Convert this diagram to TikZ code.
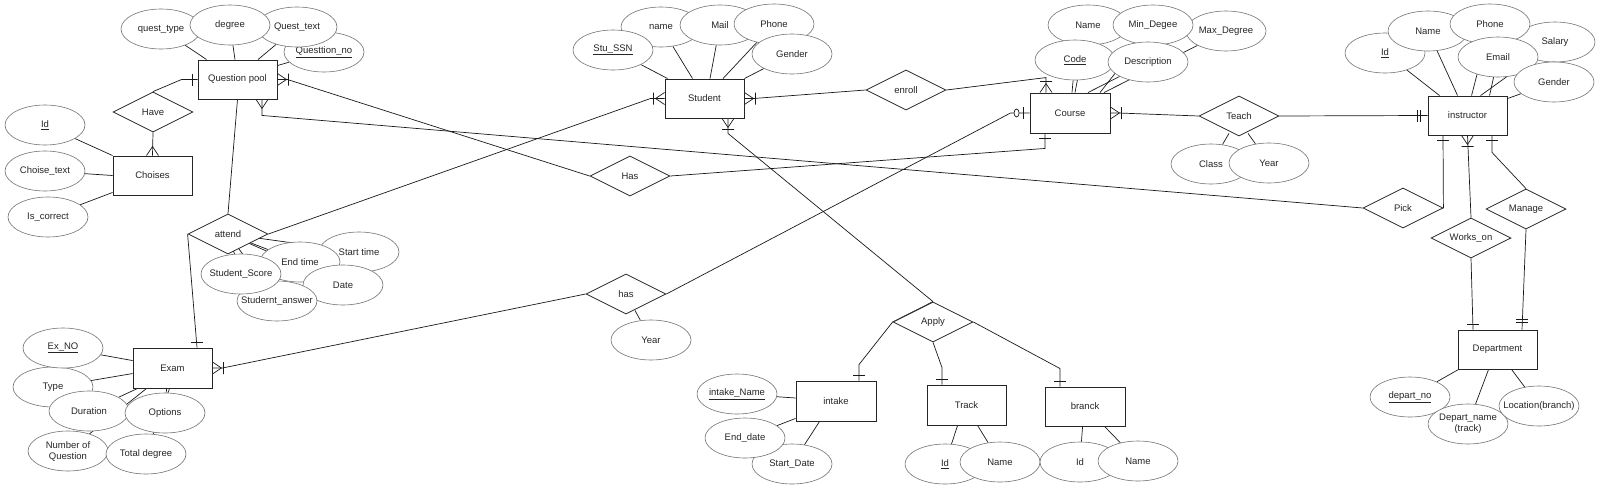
\documentclass[tikz,border=0pt]{standalone}
\usepackage{fontspec}
\setmainfont{Liberation Sans}
\usepackage{tikz}
\usetikzlibrary{positioning, shapes.geometric}
\pgfdeclarelayer{background}
\pgfsetlayers{background,main}

\tikzset{
  entity/.style={draw=black!85, line width=0.9pt, fill=white, minimum width=79pt, minimum height=39pt, inner sep=0pt},
  attr/.style={ellipse, draw=black!55, line width=0.6pt, fill=white, minimum width=80pt, minimum height=40pt, inner xsep=-20pt, inner ysep=0pt, align=center},
  relation/.style={diamond, aspect=2, draw=black!85, line width=0.8pt, fill=white, minimum width=80pt, minimum height=40pt, inner sep=0pt},
  conn/.style={draw=black!90, line width=0.7pt},
  pics/one/.style={code={\draw[conn] (5,-6) -- (5,6);}},
  pics/mone/.style={code={\draw[conn] (7,-6) -- (7,6) (10,-6) -- (10,6);}},
  pics/many/.style={code={\draw[conn] (0,-6) -- (9,0) -- (0,6);}},
  pics/onemany/.style={code={\draw[conn] (0,-6) -- (9,0) -- (0,6) (11,-6) -- (11,6);}},
  pics/zeroone/.style={code={\draw[conn] (6,-6) -- (6,6); \draw[conn, fill=white] (13,0) ellipse [x radius=2.5, y radius=4];}}
}

\begin{document}
\begin{tikzpicture}[x=1pt, y=-1pt, font=\fontsize{9.5}{11}\selectfont, text=black!85]
    \useasboundingbox (0,0) rectangle (1600,490);

    % entities
    \node[entity] (qpool) at (237.5,79.5) {Question pool};
    \node[entity] (choises) at (152.5,175.5) {Choises};
    \node[entity] (stu) at (704.5,98.5) {Student};
    \node[entity, minimum width=80pt, minimum height=40pt] (course) at (1070,113) {Course};
    \node[entity] (instr) at (1467.5,115.5) {instructor};
    \node[entity] (dept) at (1497.5,349.5) {Department};
    \node[entity, minimum height=40pt] (exam) at (172.5,368) {Exam};
    \node[entity, minimum width=80pt, minimum height=40pt] (intake) at (836,401) {intake};
    \node[entity, minimum height=40pt] (track) at (966.5,405) {Track};
    \node[entity, minimum width=80pt] (branck) at (1085,406.5) {branck};

    % relations
    \node[relation] (have) at (153,112) {Have};
    \node[relation] (attend) at (228,234) {attend};
    \node[relation] (has) at (630,176) {Has};
    \node[relation] (enroll) at (906,90) {enroll};
    \node[relation] (teach) at (1239,116) {Teach};
    \node[relation] (hasexam) at (626,294) {has};
    \node[relation] (pick) at (1403,208) {Pick};
    \node[relation] (works) at (1471,238) {Works\_on};
    \node[relation] (manage) at (1526,209) {Manage};
    \node[relation] (apply) at (933,322) {Apply};

    % attributes of Question pool and Choises
    \node[attr] (qno) at (324,52) {\underline{Questtion\_no}};
    \node[attr] (qtype) at (161,29) {quest\_type};
    \node[attr] (qtext) at (297,27) {Quest\_text};
    \node[attr] (qdeg) at (230,25) {degree};
    \node[attr] (chid) at (45,125) {\underline{Id}};
    \node[attr] (chtext) at (45,171) {Choise\_text};
    \node[attr] (chcorr) at (48,217) {Is\_correct};

    % attributes of attend
    \node[attr] (stime) at (359,252) {Start time};
    \node[attr] (etime) at (300,262) {End time};
    \node[attr] (date) at (343,285) {Date};
    \node[attr] (sans) at (277,301) {Studernt\_answer};
    \node[attr] (sscore) at (241,274) {Student\_Score};

    % attributes of Exam
    \node[attr] (etype) at (53,387) {Type};
    \node[attr] (exno) at (63,348) {\underline{Ex\_NO}};
    \node[attr] (dur) at (89,411) {Duration};
    \node[attr] (opts) at (165,413) {Options};
    \node[attr] (nq) at (68,451) {Number of\\Question};
    \node[attr] (tdeg) at (146,454) {Total degree};

    % attributes of Student
    \node[attr] (sname) at (661,27) {name};
    \node[attr] (stussn) at (613,50) {\underline{Stu\_SSN}};
    \node[attr] (smail) at (720,25) {Mail};
    \node[attr] (sphone) at (774,24) {Phone};
    \node[attr] (sgender) at (792,54) {Gender};

    % attributes of Course
    \node[attr] (cmax) at (1226,31) {Max\_Degree};
    \node[attr] (cname) at (1088,25) {Name};
    \node[attr] (cmin) at (1153,25) {Min\_Degee};
    \node[attr] (ccode) at (1075,60) {\underline{Code}};
    \node[attr] (cdesc) at (1148,62) {Description};

    % attributes of Teach and has
    \node[attr] (tclass) at (1211,164) {Class};
    \node[attr] (tyear) at (1269,163) {Year};
    \node[attr] (hyear) at (651,340) {Year};

    % attributes of instructor
    \node[attr] (iid) at (1385,53) {\underline{Id}};
    \node[attr] (isal) at (1555,42) {Salary};
    \node[attr] (iname) at (1428,31) {Name};
    \node[attr] (iphone) at (1490,24) {Phone};
    \node[attr] (iemail) at (1498,57) {Email};
    \node[attr] (igender) at (1554,82) {Gender};

    % attributes of Department
    \node[attr] (dno) at (1410,397) {\underline{depart\_no}};
    \node[attr] (dname) at (1468,424) {Depart\_name\\(track)};
    \node[attr] (dloc) at (1539,406) {Location(branch)};

    % attributes of intake, Track and branck
    \node[attr] (intname) at (737,394) {\underline{intake\_Name}};
    \node[attr] (intstart) at (792,464) {Start\_Date};
    \node[attr] (intend) at (745,438) {End\_date};
    \node[attr] (trid) at (945,464) {\underline{Id}};
    \node[attr] (trname) at (1000,462) {Name};
    \node[attr] (brid) at (1080,462) {Id};
    \node[attr] (brname) at (1138,461) {Name};

    \begin{pgfonlayer}{background}
    % attribute lines
    \draw[conn] (qtype) -- ([xshift=9pt]qpool.north west);
    \draw[conn] (qdeg) -- ([xshift=-2.5pt]qpool.north);
    \draw[conn] (qtext) -- ([xshift=20.5pt]qpool.north);
    \draw[conn] (qno) -- ([yshift=-6pt]qpool.north east);
    \draw[conn] (chid) -- (choises.north west);
    \draw[conn] (chtext) -- (choises.west);
    \draw[conn] (chcorr) -- ([yshift=3pt]choises.south west);
    \foreach \a in {stime, etime, date, sans, sscore}
        \draw[conn] (\a) -- (attend.center);
    \draw[conn] (exno) -- ([yshift=-13pt]exam.north west);
    \draw[conn] (etype) -- ([yshift=-26pt]exam.north west);
    \draw[conn] (dur) -- ([xshift=5pt]exam.south west);
    \draw[conn] (nq) -- ([xshift=14pt]exam.south west);
    \draw[conn] (opts) -- ([xshift=34pt]exam.south west);
    \draw[conn] (tdeg) -- ([xshift=37pt]exam.south west);
    \draw[conn] (stussn) -- ([xshift=3pt]stu.north west);
    \draw[conn] (sname) -- ([xshift=28pt]stu.north west);
    \draw[conn] (smail) -- ([xshift=5.5pt]stu.north);
    \draw[conn] (sphone) -- ([xshift=18.5pt]stu.north);
    \draw[conn] (sgender) -- (stu.north east);
    \draw[conn] (cname) -- ([xshift=5pt]course.north);
    \draw[conn] (ccode) -- ([xshift=2pt]course.north);
    \draw[conn] (cdesc) -- ([xshift=18pt]course.north);
    \draw[conn] (cmin) -- ([xshift=30pt]course.north);
    \draw[conn] (cmax) -- ([xshift=34pt]course.north);
    \draw[conn] (tclass) -- ([xshift=-10pt, yshift=3pt]teach.south);
    \draw[conn] (tyear) -- ([xshift=9pt, yshift=3pt]teach.south);
    \draw[conn] (hyear) -- ([xshift=9pt, yshift=4pt]hasexam.south);
    \draw[conn] (iid) -- ([xshift=12pt]instr.north west);
    \draw[conn] (iname) -- ([xshift=30pt]instr.north west);
    \draw[conn] (iphone) -- ([xshift=44pt]instr.north west);
    \draw[conn] (isal) -- ([xshift=53pt]instr.north west);
    \draw[conn] (iemail) -- ([xshift=62pt]instr.north west);
    \draw[conn] (igender) -- ([yshift=-3pt]instr.north east);
    \draw[conn] (dno) -- ([xshift=1pt]dept.south west);
    \draw[conn] (dname) -- ([xshift=31pt]dept.south west);
    \draw[conn] (dloc) -- ([xshift=54pt]dept.south west);
    \draw[conn] (intname) -- ([yshift=3pt]intake.west);
    \draw[conn] (intend) -- ([yshift=3pt]intake.south west);
    \draw[conn] (intstart) -- ([xshift=24pt]intake.south west);
    \draw[conn] (trid) -- ([xshift=31pt]track.south west);
    \draw[conn] (trname) -- ([xshift=51pt]track.south west);
    \draw[conn] (brid) -- ([xshift=38pt]branck.south west);
    \draw[conn] (brname) -- ([xshift=60pt]branck.south west);

    % relationship lines
    \draw[conn] (have.north) -- ([xshift=-16pt]qpool.west) -- (qpool.west);
    \draw[conn] (have.south) -- (choises.north);
    \draw[conn] (qpool.east) -- ([xshift=10pt]qpool.east) -- (has.west);
    \draw[conn] ([xshift=24.5pt]qpool.south) -- ([xshift=24.5pt, yshift=-16pt]qpool.south) -- (pick.west);
    \draw[conn] (qpool.south) -- (attend.north);
    \draw[conn] (attend.west) -- ([xshift=24.5pt]exam.north);
    \draw[conn] (attend.east) -- ([xshift=-14pt]stu.west) -- (stu.west);
    \draw[conn] (stu.east) -- ([xshift=9pt]stu.east) -- (enroll.west);
    \draw[conn] (enroll.east) -- ([xshift=-24pt, yshift=15pt]course.north) -- ([xshift=-24pt]course.north);
    \draw[conn] (has.east) -- ([xshift=-25pt, yshift=-15pt]course.south) -- ([xshift=-25pt]course.south);
    \draw[conn] (hasexam.east) -- ([xshift=-19pt]course.west) -- (course.west);
    \draw[conn] (hasexam.west) -- ([xshift=10pt]exam.east) -- (exam.east);
    \draw[conn] (course.east) -- ([xshift=8pt]course.east) -- (teach.west);
    \draw[conn] (teach.east) -- (instr.west);
    \draw[conn] (pick.east) -- ([xshift=-24.5pt]instr.south);
    \draw[conn] (works.north) -- (instr.south);
    \draw[conn] (manage.north) -- ([xshift=24.5pt, yshift=-17pt]instr.south) -- ([xshift=24.5pt]instr.south);
    \draw[conn] (works.south) -- ([xshift=-24.5pt]dept.north);
    \draw[conn] (manage.south) -- ([xshift=24.5pt]dept.north);
    \draw[conn] ([xshift=23.5pt]stu.south) -- ([xshift=23.5pt, yshift=-15pt]stu.south) -- (apply.north);
    \draw[conn] (apply.north) -- (apply.west) -- ([xshift=23pt, yshift=16pt]intake.north) -- ([xshift=23pt]intake.north);
    \draw[conn] (apply.south) -- ([xshift=-24.5pt, yshift=17pt]track.north) -- ([xshift=-24.5pt]track.north);
    \draw[conn] (apply.east) -- ([xshift=-25pt, yshift=18pt]branck.north) -- ([xshift=-25pt]branck.north);

    % cardinality marks
    \pic[rotate=180] at (qpool.west) {one};
    \pic[rotate=90] at (choises.north) {many};
    \pic at (qpool.east) {onemany};
    \pic[rotate=-90] at ([xshift=24.5pt]qpool.south) {many};
    \pic[rotate=90] at ([xshift=24.5pt]exam.north) {one};
    \pic at (exam.east) {onemany};
    \pic[rotate=180] at (stu.west) {onemany};
    \pic at (stu.east) {onemany};
    \pic[rotate=-90] at ([xshift=23.5pt]stu.south) {onemany};
    \pic[rotate=90] at ([xshift=-24pt]course.north) {onemany};
    \pic[rotate=-90] at ([xshift=-25pt]course.south) {one};
    \pic[rotate=180] at (course.west) {zeroone};
    \pic at (course.east) {onemany};
    \pic[rotate=180] at (instr.west) {mone};
    \pic[rotate=-90] at ([xshift=-24.5pt]instr.south) {one};
    \pic[rotate=-90] at (instr.south) {onemany};
    \pic[rotate=-90] at ([xshift=24.5pt]instr.south) {one};
    \pic[rotate=90] at ([xshift=-24.5pt]dept.north) {one};
    \pic[rotate=90] at ([xshift=24.5pt]dept.north) {mone};
    \pic[rotate=90] at ([xshift=23pt]intake.north) {one};
    \pic[rotate=90] at ([xshift=-24.5pt]track.north) {one};
    \pic[rotate=90] at ([xshift=-25pt]branck.north) {one};
    \end{pgfonlayer}

\end{tikzpicture}
\end{document}
